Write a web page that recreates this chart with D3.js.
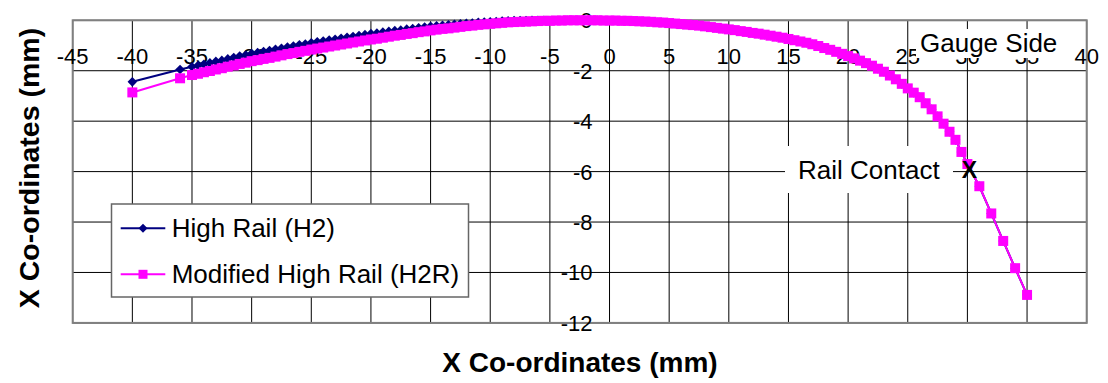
<!DOCTYPE html>
<html>
<head>
<meta charset="utf-8">
<script src="https://cdn.jsdelivr.net/npm/d3@7"></script>
<style>
  html, body { margin: 0; padding: 0; background: #fff; }
  svg { display: block; font-family: Arial, "Liberation Sans", sans-serif; }
</style>
</head>
<body>
<svg id="chart" width="1108" height="383"></svg>
<script>
// Rail head profile coordinates (mm): lateral position and height
const railX = [
  -40, -36,
  -35, -34.5, -34, -33.5, -33, -32.5, -32, -31.5, -31, -30.5,
  -30, -29.5, -29, -28.5, -28, -27.5, -27, -26.5, -26, -25.5,
  -25, -24.5, -24, -23.5, -23, -22.5, -22, -21.5, -21, -20.5,
  -20, -19.5, -19, -18.5, -18, -17.5, -17, -16.5, -16, -15.5,
  -15, -14.5, -14, -13.5, -13, -12.5, -12, -11.5, -11, -10.5,
  -10, -9.5, -9, -8.5, -8, -7.5, -7, -6.5, -6, -5.5,
  -5, -4.5, -4, -3.5, -3, -2.5, -2, -1.5, -1, -0.5,
  0, 0.5, 1, 1.5, 2, 2.5, 3, 3.5, 4, 4.5,
  5, 5.5, 6, 6.5, 7, 7.5, 8, 8.5, 9, 9.5,
  10, 10.5, 11, 11.5, 12, 12.5, 13, 13.5, 14, 14.5,
  15, 15.5, 16, 16.5, 17, 17.5, 18, 18.5, 19, 19.5,
  20, 20.5, 21, 21.5, 22, 22.5, 23, 23.5, 24, 24.5,
  25, 25.5, 26, 26.5, 27, 27.5, 28, 28.5, 29, 29.5,
  30,
  31, 32, 33, 34, 35
];

// High Rail (H2)
const highRail = [
  -2.44, -1.95,
  -1.84, -1.79, -1.74, -1.69, -1.63, -1.59, -1.53, -1.48, -1.42, -1.38,
  -1.32, -1.28, -1.24, -1.20, -1.15, -1.11, -1.06, -1.02, -0.97, -0.94,
  -0.89, -0.85, -0.82, -0.78, -0.75, -0.71, -0.67, -0.64, -0.60, -0.57,
  -0.53, -0.51, -0.47, -0.44, -0.41, -0.39, -0.35, -0.33, -0.30, -0.27,
  -0.24, -0.22, -0.20, -0.18, -0.16, -0.14, -0.12, -0.11, -0.08, -0.07,
  -0.06, -0.05, -0.03, -0.02, -0.01, -0.01, -0.01, 0, 0, 0,
  -0.01, -0.01, -0.01, 0, 0, 0, 0, 0, 0, -0.01,
  -0.01, -0.01, -0.02, -0.02, -0.03, -0.04, -0.05, -0.06, -0.08, -0.09,
  -0.11, -0.13, -0.15, -0.17, -0.19, -0.21, -0.24, -0.27, -0.30, -0.33,
  -0.36, -0.39, -0.43, -0.46, -0.50, -0.53, -0.57, -0.61, -0.65, -0.69,
  -0.74, -0.79, -0.84, -0.89, -0.95, -1.02, -1.10, -1.17, -1.25, -1.33,
  -1.42, -1.51, -1.60, -1.70, -1.80, -1.92, -2.04, -2.19, -2.34, -2.52,
  -2.70, -2.87, -3.05, -3.29, -3.53, -3.81, -4.10, -4.42, -4.74, -5.22,
  -5.70,
  -6.58, -7.66, -8.75, -9.83, -10.89
];

// Modified High Rail (H2R)
const modifiedRail = [
  -2.86, -2.30,
  -2.17, -2.12, -2.06, -2.01, -1.95, -1.90, -1.84, -1.79, -1.73, -1.68,
  -1.62, -1.58, -1.53, -1.49, -1.44, -1.39, -1.34, -1.30, -1.25, -1.21,
  -1.16, -1.12, -1.08, -1.04, -1.00, -0.96, -0.92, -0.88, -0.84, -0.80,
  -0.76, -0.73, -0.69, -0.65, -0.61, -0.58, -0.54, -0.51, -0.47, -0.44,
  -0.40, -0.37, -0.34, -0.32, -0.29, -0.26, -0.23, -0.21, -0.18, -0.16,
  -0.14, -0.12, -0.10, -0.08, -0.07, -0.06, -0.05, -0.04, -0.03, -0.02,
  -0.02, -0.01, -0.01, 0, 0, 0, 0, 0, 0, -0.01,
  -0.01, -0.01, -0.02, -0.02, -0.03, -0.04, -0.05, -0.06, -0.08, -0.09,
  -0.11, -0.13, -0.15, -0.17, -0.19, -0.21, -0.24, -0.27, -0.30, -0.33,
  -0.36, -0.39, -0.43, -0.46, -0.50, -0.53, -0.57, -0.61, -0.65, -0.69,
  -0.74, -0.79, -0.84, -0.89, -0.95, -1.02, -1.10, -1.17, -1.25, -1.33,
  -1.42, -1.51, -1.60, -1.70, -1.80, -1.92, -2.04, -2.19, -2.34, -2.52,
  -2.70, -2.87, -3.05, -3.29, -3.53, -3.81, -4.10, -4.42, -4.74, -5.22,
  -5.70,
  -6.58, -7.66, -8.75, -9.83, -10.89
];

const seriesNames = ["High Rail (H2)", "Modified High Rail (H2R)"];
const xTicks = [-45, -40, -35, -30, -25, -20, -15, -10, -5, 0, 5, 10, 15, 20, 25, 30, 35, 40];
const yTicks = [0, -2, -4, -6, -8, -10, -12];
const contactPoint = [30, -6];

const svg = d3.select("#chart");
const plot = { left: 72.7, right: 1086.7, top: 20.3, bottom: 322.9 };

const x = d3.scaleLinear().domain([-45, 40]).range([plot.left, plot.right]);
const y = d3.scaleLinear().domain([-12, 0]).range([plot.bottom, plot.top]);

// gridlines
const grid = svg.append("g");
grid.selectAll("line.v").data(xTicks).join("line")
  .attr("x1", d => x(d)).attr("x2", d => x(d))
  .attr("y1", plot.top).attr("y2", plot.bottom)
  .attr("stroke", "#000").attr("stroke-width", 1);
grid.selectAll("line.h").data(yTicks).join("line")
  .attr("x1", plot.left).attr("x2", plot.right)
  .attr("y1", d => y(d)).attr("y2", d => y(d))
  .attr("stroke", "#000").attr("stroke-width", 1);

// plot frame
svg.append("rect")
  .attr("x", plot.left).attr("y", plot.top)
  .attr("width", plot.right - plot.left).attr("height", plot.bottom - plot.top)
  .attr("fill", "none").attr("stroke", "#808080").attr("stroke-width", 2);

// x tick labels (axis crosses at y = 0, labels sit below it)
svg.append("g").selectAll("text").data(xTicks).join("text")
  .attr("x", d => x(d)).attr("y", 63.5)
  .attr("text-anchor", "middle")
  .attr("font-size", 22)
  .text(d => d);

// y tick labels beside the vertical axis at x = 0
svg.append("g").selectAll("text").data(yTicks).join("text")
  .attr("x", x(0) - 17).attr("y", d => y(d) + 8)
  .attr("text-anchor", "end")
  .attr("font-size", 22)
  .text(d => d);

// axis titles
svg.append("text")
  .attr("x", 580).attr("y", 372)
  .attr("text-anchor", "middle")
  .attr("font-size", 28).attr("font-weight", "bold")
  .text("X Co-ordinates (mm)");
svg.append("text")
  .attr("transform", "translate(39,168) rotate(-90)")
  .attr("text-anchor", "middle")
  .attr("font-size", 28.5).attr("font-weight", "bold")
  .text("X Co-ordinates (mm)");

// series
const pts = (vals) => railX.map((v, i) => [v, vals[i]]);
const line = d3.line().x(d => x(d[0])).y(d => y(d[1]));
const diamond = r => `M0,${-r}L${r},0L0,${r}L${-r},0Z`;

const h2 = pts(highRail);
svg.append("path").datum(h2)
  .attr("d", line).attr("fill", "none")
  .attr("stroke", "#000080").attr("stroke-width", 2);
svg.append("g").selectAll("path").data(h2).join("path")
  .attr("transform", d => `translate(${x(d[0])},${y(d[1])})`)
  .attr("d", diamond(4.8)).attr("fill", "#000080");

const h2r = pts(modifiedRail);
svg.append("path").datum(h2r)
  .attr("d", line).attr("fill", "none")
  .attr("stroke", "#FF00FF").attr("stroke-width", 2);
svg.append("g").selectAll("rect").data(h2r).join("rect")
  .attr("x", d => x(d[0]) - 5).attr("y", d => y(d[1]) - 5)
  .attr("width", 10).attr("height", 10).attr("fill", "#FF00FF");

// annotations
svg.append("rect").attr("x", 916).attr("y", 29).attr("width", 152).attr("height", 29).attr("fill", "#fff");
svg.append("text").attr("x", 920).attr("y", 51.5).attr("font-size", 26).text("Gauge Side");

svg.append("rect").attr("x", 785).attr("y", 146).attr("width", 168).attr("height", 47).attr("fill", "#fff");
svg.append("text").attr("x", 798).attr("y", 179).attr("font-size", 26).text("Rail Contact");

svg.append("text")
  .attr("x", x(contactPoint[0]) + 2).attr("y", y(contactPoint[1]) + 6)
  .attr("text-anchor", "middle").attr("font-size", 23).attr("font-weight", "bold")
  .text("X");

// legend
const lg = svg.append("g");
lg.append("rect").attr("x", 111.5).attr("y", 204).attr("width", 357).attr("height", 93)
  .attr("fill", "#fff").attr("stroke", "#666").attr("stroke-width", 1.5);
const rows = [
  { name: seriesNames[0], color: "#000080", shape: "diamond", cy: 228.3 },
  { name: seriesNames[1], color: "#FF00FF", shape: "square", cy: 274.3 }
];
rows.forEach(r => {
  lg.append("line").attr("x1", 120.7).attr("x2", 165.3).attr("y1", r.cy).attr("y2", r.cy)
    .attr("stroke", r.color).attr("stroke-width", 2);
  if (r.shape === "diamond") {
    lg.append("path").attr("transform", `translate(143,${r.cy})`).attr("d", diamond(4.5)).attr("fill", r.color);
  } else {
    lg.append("rect").attr("x", 143 - 4.5).attr("y", r.cy - 4.5).attr("width", 9).attr("height", 9).attr("fill", r.color);
  }
  lg.append("text").attr("x", 171.7).attr("y", r.cy + 9).attr("font-size", 26).text(r.name);
});
</script>
</body>
</html>
